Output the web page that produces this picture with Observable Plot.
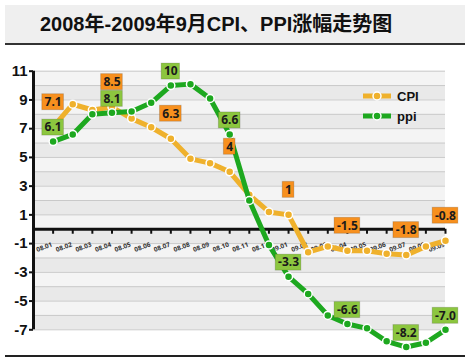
<!DOCTYPE html>
<html><head><meta charset="utf-8">
<script src="https://cdn.jsdelivr.net/npm/d3@7"></script>
<script src="https://cdn.jsdelivr.net/npm/@observablehq/plot@0.6"></script>
<style>
body{margin:0;background:#fff;width:472px;height:364px;position:relative;overflow:hidden;font-family:"Liberation Sans",Arial,"Noto Sans CJK SC",sans-serif}
#title{position:absolute;left:5px;top:5px;width:460px;height:40px;box-sizing:border-box;background:#efefef;border-bottom:2px solid #333;
  font:bold 20px "Liberation Sans",Arial,"Noto Sans CJK SC",sans-serif;color:#111;padding-left:35px;line-height:38px;white-space:nowrap}
#chart{position:absolute;left:0;top:46px}
#bottomline{position:absolute;left:5px;top:355px;width:460px;height:2px;background:#222}
#legend{position:absolute;left:362px;top:86px;font:bold 13px "Liberation Sans",Arial,sans-serif;color:#111}
#legend div{height:20px;display:flex;align-items:center}
#legend svg{margin-right:5px}
</style>
</head><body>
<div id="title"></div>
<div id="chart"></div>
<div id="legend"></div>
<div id="bottomline"></div>
<script>
const titleText = "2008年-2009年9月CPI、PPI涨幅走势图";
const months = ["08.01","08.02","08.03","08.04","08.05","08.06","08.07","08.08","08.09","08.10","08.11","08.12",
                "09.01","09.02","09.03","09.04","09.05","09.06","09.07","09.08","09.09"];
const cpi = [7.1,8.7,8.3,8.5,7.7,7.1,6.3,4.9,4.6,4.0,2.4,1.2,1.0,-1.6,-1.2,-1.5,-1.5,-1.7,-1.8,-1.2,-0.8];
const ppi = [6.1,6.6,8.0,8.1,8.2,8.8,10.0,10.1,9.1,6.6,2.0,-1.1,-3.3,-4.5,-6.0,-6.6,-6.9,-7.8,-8.2,-7.9,-7.0];
const labelAt = [0,3,6,9,12,15,18,20];
const cpiLabels = ["7.1","8.5","6.3","4","1","-1.5","-1.8","-0.8"];
const ppiLabels = ["6.1","8.1","10","6.6","-3.3","-6.6","-8.2","-7.0"];
const yTicks = [11,9,7,5,3,1,-1,-3,-5,-7];
const seriesNames = ["CPI","ppi"];
const colors = {CPI:"#EFB12C", ppi:"#1DA81F"};
const boxColors = {CPI:"#F7901E", ppi:"#8CC63F"};

document.getElementById("title").textContent = titleText;

const idx = months.map((m,i)=>i);
const cpiData = idx.map(i=>({i, v:cpi[i], m:months[i]}));
const ppiData = idx.map(i=>({i, v:ppi[i], m:months[i]}));
const cpiLab = labelAt.map((i,k)=>({i, v:cpi[i], t:cpiLabels[k]}));
const ppiLab = labelAt.map((i,k)=>({i, v:ppi[i], t:ppiLabels[k]}));

const yMin = d3.min(yTicks), yMax = d3.max(yTicks);
const gridVals = d3.range(yMin, yMax + 1);
const bands = d3.range(yMin, yMax);
const xDom = [-1, months.length - 1];
const unitY = (283.3 - 24.7) / (yMax - yMin);
const unitX = (445 - 33) / (xDom[1] - xDom[0]);

// label box geometry (pixels), converted to data units
const ctx = document.createElement("canvas").getContext("2d");
ctx.font = "bold 12px 'Liberation Sans', Arial, sans-serif";
const halfW = t => (ctx.measureText(t).width + 5) / 2 / unitX;
const boxH = 16, offCPI = 25, offPPI = 14;
const boxMarks = (data, off, fill) => Plot.rect(data, {
  x1: d => d.i - halfW(d.t), x2: d => d.i + halfW(d.t),
  y1: d => d.v + (off - boxH / 2) / unitY, y2: d => d.v + (off + boxH / 2) / unitY,
  fill, stroke: "rgba(0,0,0,0.15)", strokeWidth: 1});

const plot = Plot.plot({
  width: 472, height: 310,
  x: {domain: xDom, range: [33, 445], axis: null},
  y: {domain: [yMin, yMax], range: [283.3, 24.7], axis: null},
  marks: [
    Plot.rect(bands, {x1: () => xDom[0], x2: () => xDom[1], y1: d => d, y2: d => d + 1,
      fill: d => (((d % 2) + 2) % 2 === 0) ? "#f4f4f4" : "#e9e9e9"}),
    Plot.ruleY(gridVals, {x1: () => xDom[0], x2: () => xDom[1], stroke: "#c9c9c9", strokeWidth: 1}),
    Plot.ruleX(idx, {x: d => d, y1: 0, y2: -5 / unitY, stroke: "#111", strokeWidth: 2}),
    Plot.ruleY([0], {x1: () => xDom[0], x2: () => xDom[1], stroke: "#111", strokeWidth: 3}),
    Plot.text(idx, {x: d => d, y: 0, text: d => months[d], dy: 15, dx: -1, rotate: -20,
      textAnchor: "end", fontSize: 6.5, fill: "#333", fontWeight: "bold"}),
    Plot.ruleX([xDom[0]], {y1: yMin, y2: yMax, stroke: "#111", strokeWidth: 3}),
    Plot.ruleY(yTicks, {x1: () => xDom[0] - 4 / unitX, x2: () => xDom[0], stroke: "#111", strokeWidth: 2}),
    Plot.text(yTicks, {x: () => xDom[0], y: d => d, text: d => String(d), dx: -6, textAnchor: "end",
      fontSize: 15, fontWeight: "bold", fill: "#111", fontFamily: "'Liberation Sans Narrow','Liberation Sans',Arial,sans-serif"}),
    Plot.line(cpiData, {x: "i", y: "v", stroke: colors.CPI, strokeWidth: 5, strokeLinejoin: "round"}),
    Plot.dot(cpiData, {x: "i", y: "v", r: 4, fill: colors.CPI, stroke: "#fff", strokeWidth: 1.5}),
    Plot.line(ppiData, {x: "i", y: "v", stroke: colors.ppi, strokeWidth: 5, strokeLinejoin: "round"}),
    Plot.dot(ppiData, {x: "i", y: "v", r: 4, fill: colors.ppi, stroke: "#fff", strokeWidth: 1.5}),
    boxMarks(cpiLab, offCPI, boxColors.CPI),
    boxMarks(ppiLab, offPPI, boxColors.ppi),
    Plot.text(cpiLab, {x: "i", y: "v", text: "t", dy: -offCPI, fontSize: 12, fontWeight: "bold", fill: "#1a1a1a"}),
    Plot.text(ppiLab, {x: "i", y: "v", text: "t", dy: -offPPI, fontSize: 12, fontWeight: "bold", fill: "#1a1a1a"})
  ]
});
document.getElementById("chart").appendChild(plot);

// legend
const leg = d3.select("#legend");
for (const s of seriesNames) {
  const row = leg.append("div");
  const sv = row.append("svg").attr("width", 30).attr("height", 12);
  sv.append("line").attr("x1", 1).attr("x2", 29).attr("y1", 6).attr("y2", 6)
    .attr("stroke", colors[s]).attr("stroke-width", 5);
  sv.append("circle").attr("cx", 15).attr("cy", 6).attr("r", 4)
    .attr("fill", colors[s]).attr("stroke", "#fff").attr("stroke-width", 1.5);
  row.append("span").text(s);
}
</script>
</body></html>
